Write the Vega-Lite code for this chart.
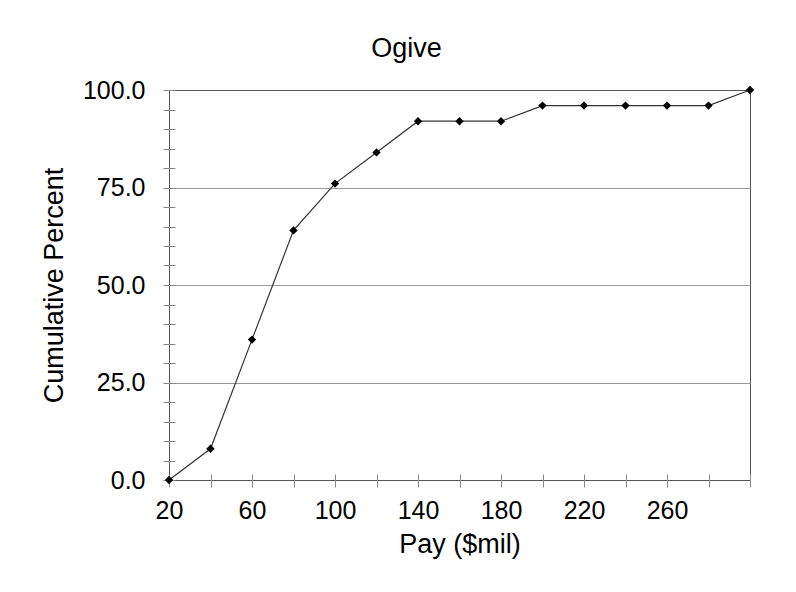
{
  "$schema": "https://vega.github.io/schema/vega-lite/v6.json",
  "autosize": {"type": "none"},
  "padding": {"left": 169, "top": 90, "right": 46, "bottom": 112},
  "width": 581,
  "height": 390,
  "background": "white",
  "config": {
    "font": "Liberation Sans",
    "view": {"stroke": "#555555", "strokeWidth": 1}
  },
  "title": {
    "text": "Ogive",
    "font": "Liberation Sans",
    "fontSize": 27,
    "fontWeight": "normal",
    "color": "#000000",
    "anchor": "middle",
    "frame": "group",
    "dx": -53,
    "baseline": "alphabetic",
    "offset": -6
  },
  "data": {
    "values": [
      {"pay": 20, "cum": 0},
      {"pay": 40, "cum": 8},
      {"pay": 60, "cum": 36},
      {"pay": 80, "cum": 64},
      {"pay": 100, "cum": 76},
      {"pay": 120, "cum": 84},
      {"pay": 140, "cum": 92},
      {"pay": 160, "cum": 92},
      {"pay": 180, "cum": 92},
      {"pay": 200, "cum": 96},
      {"pay": 220, "cum": 96},
      {"pay": 240, "cum": 96},
      {"pay": 260, "cum": 96},
      {"pay": 280, "cum": 96},
      {"pay": 300, "cum": 100}
    ]
  },
  "encoding": {
    "x": {
      "field": "pay",
      "type": "quantitative",
      "scale": {"domain": [20, 300], "nice": false, "zero": false},
      "axis": {
        "title": "Pay ($mil)",
        "values": [20, 40, 60, 80, 100, 120, 140, 160, 180, 200, 220, 240, 260, 280, 300],
        "labelExpr": "((datum.value - 20) % 40 == 0 && datum.value < 300) ? datum.label : ''",
        "format": "d",
        "offset": -6,
        "domain": false,
        "grid": false,
        "ticks": true,
        "tickSize": 13,
        "tickColor": "#888888",
        "labelFont": "Liberation Sans",
        "labelFontSize": 25,
        "labelColor": "#000000",
        "labelPadding": 11,
        "labelOverlap": false,
        "labelFlush": false,
        "titleFont": "Liberation Sans",
        "titleFontSize": 27,
        "titleFontWeight": "normal",
        "titleColor": "#000000",
        "titlePadding": 8
      }
    },
    "y": {
      "field": "cum",
      "type": "quantitative",
      "scale": {"domain": [0, 100], "nice": false},
      "axis": {
        "title": "Cumulative Percent",
        "values": [0, 5, 10, 15, 20, 25, 30, 35, 40, 45, 50, 55, 60, 65, 70, 75, 80, 85, 90, 95, 100],
        "labelExpr": "datum.value % 25 == 0 ? format(datum.value, '.1f') : ''",
        "offset": -6,
        "domain": false,
        "grid": true,
        "gridColor": "#999999",
        "gridOpacity": {"condition": {"test": "datum.value % 25 == 0 && datum.value > 0 && datum.value < 100", "value": 1}, "value": 0},
        "ticks": true,
        "tickSize": 12,
        "tickColor": "#888888",
        "labelFont": "Liberation Sans",
        "labelFontSize": 25,
        "labelColor": "#000000",
        "labelPadding": 18,
        "labelOverlap": false,
        "labelFlush": false,
        "titleFont": "Liberation Sans",
        "titleFontSize": 27,
        "titleFontWeight": "normal",
        "titleColor": "#000000",
        "titlePadding": 14
      }
    }
  },
  "layer": [
    {"mark": {"type": "line", "color": "#333333", "strokeWidth": 1.2}},
    {"mark": {"type": "point", "shape": "diamond", "filled": true, "color": "#000000", "size": 70, "opacity": 1}}
  ]
}
